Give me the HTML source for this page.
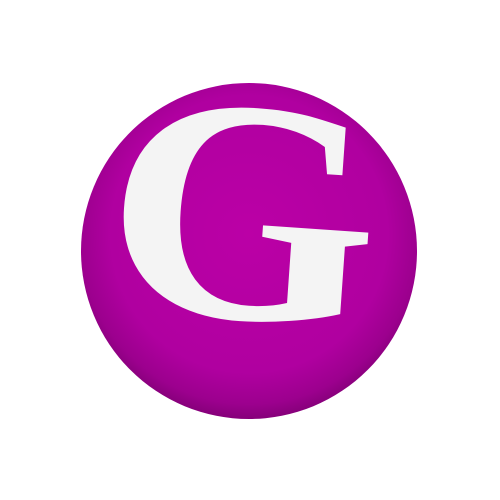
<!DOCTYPE html>
<html><head><meta charset="utf-8"><style>html,body{margin:0;padding:0;background:#fff;width:500px;height:500px;overflow:hidden}</style></head>
<body>
<svg width="500" height="500" viewBox="0 0 500 500">
<defs>
<radialGradient id="sph" cx="0.5" cy="0.45" r="0.55">
<stop offset="0" stop-color="#bb00a6"/>
<stop offset="0.75" stop-color="#b000a0"/>
<stop offset="0.92" stop-color="#9c008e"/>
<stop offset="1" stop-color="#86007a"/>
</radialGradient>
</defs>
<circle cx="249" cy="251" r="168" fill="url(#sph)"/>
<g transform="translate(243,212) rotate(4) scale(1.1,1) translate(-243,-212)">
<text x="243" y="318" text-anchor="middle" font-family="'Liberation Serif', serif" font-weight="bold" font-size="318" fill="#f4f4f4">G</text>
</g>
</svg>
</body></html>
